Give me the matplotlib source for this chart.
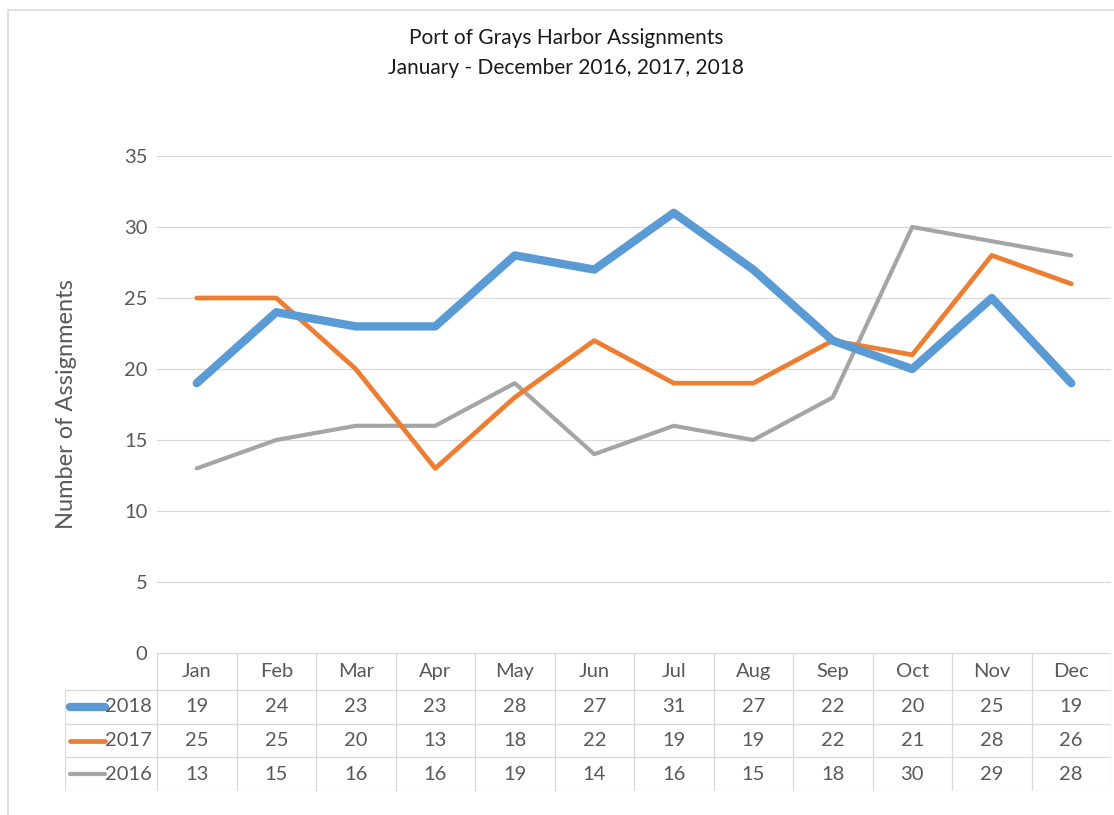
import matplotlib
matplotlib.use('Agg')
from matplotlib import pyplot as plt
import numpy as np

plt.rcParams['font.family'] = ['Lato', 'DejaVu Sans']

months = ['Jan', 'Feb', 'Mar', 'Apr', 'May', 'Jun', 'Jul', 'Aug', 'Sep', 'Oct', 'Nov', 'Dec']
years = ['2018', '2017', '2016']
v2018 = [19, 24, 23, 23, 28, 27, 31, 27, 22, 20, 25, 19]
v2017 = [25, 25, 20, 13, 18, 22, 19, 19, 22, 21, 28, 26]
v2016 = [13, 15, 16, 16, 19, 14, 16, 15, 18, 30, 29, 28]
series = [v2018, v2017, v2016]
colors = ['#5B9BD5', '#ED7D31', '#A5A5A5']
widths = [6.0, 3.4, 3.0]

W, H = 1114, 815
fig = plt.figure(figsize=(W / 100, H / 100), dpi=100)

def fx(px):
    return px / W

def fy(py):
    return 1 - py / H

# chart border (left + top only visible)
fig.add_artist(plt.Line2D([fx(8), fx(8), fx(1113)], [fy(815), fy(10), fy(10)],
                          color='#D9D9D9', lw=1.2, transform=fig.transFigure))

# main plot area
ax = fig.add_axes([fx(157), fy(653), fx(1111 - 157), fy(156) - fy(653)])
x = np.arange(len(months))
# draw back to front: 2016, 2017, 2018
for vals, c, w in list(zip(series, colors, widths))[::-1]:
    ax.plot(x, vals, color=c, lw=w, solid_capstyle='round', solid_joinstyle='round', zorder=3)
ax.set_xlim(-0.5, 11.5)
ax.set_ylim(0, 35)
ax.set_yticks(range(0, 36, 5))
ax.grid(axis='y', color='#D9D9D9', lw=0.9)
ax.set_axisbelow(True)
ax.set_xticks([])
for s in ax.spines.values():
    s.set_visible(False)
ax.tick_params(axis='y', length=0, pad=7, labelsize=14.5, labelcolor='#595959')
ax.set_ylabel('Number of Assignments', fontsize=17, color='#595959', labelpad=34)

fig.text(fx(566), fy(38), 'Port of Grays Harbor Assignments', ha='center', va='center',
         fontsize=15, color='#1a1a1a')
fig.text(fx(566), fy(68), 'January - December 2016, 2017, 2018', ha='center', va='center',
         fontsize=15, color='#1a1a1a')

# data table below the plot
tax = fig.add_axes([fx(65), fy(791), fx(1111 - 65), fy(653) - fy(791)])
lead = (157 - 65) / ((1111 - 157) / 12)
tax.set_xlim(-0.5 - lead, 11.5)
tax.set_ylim(0, 4.1)
tax.axis('off')
gc = '#D9D9D9'
row_tops = [4.1, 3.0, 2.0, 1.0, 0.0]
# horizontal lines
tax.plot([-0.5, 11.5], [4.1, 4.1], color=gc, lw=0.9)
for yv in row_tops[1:]:
    tax.plot([-0.5 - lead, 11.5], [yv, yv], color=gc, lw=0.9)
# vertical lines
for i in range(13):
    tax.plot([i - 0.5, i - 0.5], [0, 4.1], color=gc, lw=0.9)
tax.plot([-0.5 - lead, -0.5 - lead], [0, 3.0], color=gc, lw=0.9)

for i, m in enumerate(months):
    tax.text(i, 3.55, m, ha='center', va='center', fontsize=14.5, color='#595959')
for r, (yr, vals, c, w) in enumerate(zip(years, series, colors, widths)):
    yc = 2.5 - r
    tax.plot([-0.5 - lead + 0.06, -0.5 - lead + 0.5], [yc, yc], color=c, lw=w,
             solid_capstyle='round')
    tax.text(-0.56, yc, yr, ha='right', va='center', fontsize=14.5, color='#595959')
    for i, v in enumerate(vals):
        tax.text(i, yc, str(v), ha='center', va='center', fontsize=14.5, color='#595959')

fig.savefig('out.png', dpi=100)
